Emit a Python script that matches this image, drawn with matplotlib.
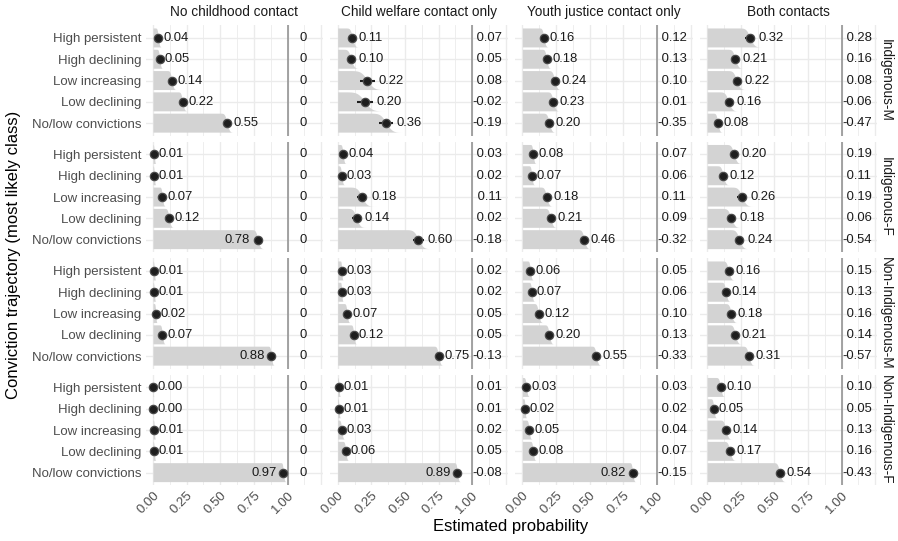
import math
import matplotlib.pyplot as plt
import numpy as np

plt.rcParams['font.family'] = ['Liberation Sans', 'DejaVu Sans']

categories = ["High persistent", "High declining", "Low increasing",
              "Low declining", "No/low convictions"]
contacts = ["No childhood contact", "Child welfare contact only",
            "Youth justice contact only", "Both contacts"]
groups = ["Indigenous-M", "Indigenous-F", "Non-Indigenous-M", "Non-Indigenous-F"]

# estimated probability, one list per contact column (5 trajectories each)
prob_indig_m = [[0.04, 0.05, 0.14, 0.22, 0.55],
                [0.11, 0.10, 0.22, 0.20, 0.36],
                [0.16, 0.18, 0.24, 0.23, 0.20],
                [0.32, 0.21, 0.22, 0.16, 0.08]]
prob_indig_f = [[0.01, 0.01, 0.07, 0.12, 0.78],
                [0.04, 0.03, 0.18, 0.14, 0.60],
                [0.08, 0.07, 0.18, 0.21, 0.46],
                [0.20, 0.12, 0.26, 0.18, 0.24]]
prob_nonindig_m = [[0.01, 0.01, 0.02, 0.07, 0.88],
                   [0.03, 0.03, 0.07, 0.12, 0.75],
                   [0.06, 0.07, 0.12, 0.20, 0.55],
                   [0.16, 0.14, 0.18, 0.21, 0.31]]
prob_nonindig_f = [[0.00, 0.00, 0.01, 0.01, 0.97],
                   [0.01, 0.01, 0.03, 0.06, 0.89],
                   [0.03, 0.02, 0.05, 0.08, 0.82],
                   [0.10, 0.05, 0.14, 0.17, 0.54]]

# half width of the interval around each estimate
hw_indig_m = [[0.010, 0.010, 0.015, 0.015, 0.020],
              [0.020, 0.025, 0.055, 0.060, 0.050],
              [0.015, 0.015, 0.020, 0.020, 0.020],
              [0.035, 0.025, 0.030, 0.030, 0.015]]
hw_indig_f = [[0.005, 0.005, 0.010, 0.015, 0.020],
              [0.010, 0.010, 0.040, 0.030, 0.040],
              [0.010, 0.010, 0.020, 0.020, 0.020],
              [0.025, 0.020, 0.035, 0.030, 0.030]]
hw_nonindig_m = [[0.005, 0.005, 0.005, 0.010, 0.010],
                 [0.005, 0.005, 0.010, 0.010, 0.015],
                 [0.010, 0.010, 0.015, 0.015, 0.015],
                 [0.020, 0.015, 0.020, 0.020, 0.020]]
hw_nonindig_f = [[0.003, 0.003, 0.004, 0.005, 0.008],
                 [0.005, 0.005, 0.010, 0.010, 0.010],
                 [0.010, 0.005, 0.010, 0.010, 0.010],
                 [0.015, 0.010, 0.020, 0.020, 0.020]]

# difference from "No childhood contact"
diff_indig_m = [[0, 0, 0, 0, 0],
                [0.07, 0.05, 0.08, -0.02, -0.19],
                [0.12, 0.13, 0.10, 0.01, -0.35],
                [0.28, 0.16, 0.08, -0.06, -0.47]]
diff_indig_f = [[0, 0, 0, 0, 0],
                [0.03, 0.02, 0.11, 0.02, -0.18],
                [0.07, 0.06, 0.11, 0.09, -0.32],
                [0.19, 0.11, 0.19, 0.06, -0.54]]
diff_nonindig_m = [[0, 0, 0, 0, 0],
                   [0.02, 0.02, 0.05, 0.05, -0.13],
                   [0.05, 0.06, 0.10, 0.13, -0.33],
                   [0.15, 0.13, 0.16, 0.14, -0.57]]
diff_nonindig_f = [[0, 0, 0, 0, 0],
                   [0.01, 0.01, 0.02, 0.05, -0.08],
                   [0.03, 0.02, 0.04, 0.07, -0.15],
                   [0.10, 0.05, 0.13, 0.16, -0.43]]

probs = [prob_indig_m, prob_indig_f, prob_nonindig_m, prob_nonindig_f]
hws = [hw_indig_m, hw_indig_f, hw_nonindig_m, hw_nonindig_f]
diffs = [diff_indig_m, diff_indig_f, diff_nonindig_m, diff_nonindig_f]

W, H = 898, 541
fig = plt.figure(figsize=(W / 100, H / 100), dpi=100)

unit = 134.5       # pixels per 1.0 of probability
col_x0 = 153.0     # pixel of x=0 in first column
col_step = 184.7
row_top0 = 25.2
row_step = 116.5
cat_px = 21.3
xlim = (-0.055, 1.265)
ylim = (4.6, -0.6)
pw = (xlim[1] - xlim[0]) * unit
ph = (ylim[0] - ylim[1]) * cat_px

grid_col = '#ebebeb'
slab_col = '#d3d3d3'
dot_col = '#1e1e1e'
lab_size = 9.4


def ccdf(x, m, s):
    return np.array([0.5 * math.erfc((v - m) / (s * math.sqrt(2))) for v in x])


for r in range(4):
    for c in range(4):
        left = col_x0 + c * col_step + xlim[0] * unit
        top = row_top0 + r * row_step
        ax = fig.add_axes([left / W, 1 - (top + ph) / H, pw / W, ph / H])
        ax.set_xlim(*xlim)
        ax.set_ylim(*ylim)
        for s in ax.spines.values():
            s.set_visible(False)

        ax.set_xticks([0, 0.25, 0.5, 0.75, 1.0, 1.25])
        ax.set_xticks([0.125, 0.375, 0.625, 0.875, 1.125], minor=True)
        ax.set_yticks(range(5))
        ax.grid(which='major', color=grid_col, lw=1.0, zorder=0)
        ax.grid(which='minor', axis='x', color=grid_col, lw=0.6, zorder=0)
        ax.set_axisbelow(True)
        ax.tick_params(which='both', length=0, colors='#4d4d4d',
                       labelsize=9.5, pad=3)

        if r == 3:
            ax.set_xticklabels(['0.00', '0.25', '0.50', '0.75', '1.00', ''])
            plt.setp(ax.get_xticklabels(), rotation=45, ha='right',
                     va='top', rotation_mode='anchor')
        else:
            ax.set_xticklabels([])
        if c == 0:
            ax.set_yticklabels(categories)
        else:
            ax.set_yticklabels([])

        vals = probs[r][c]
        ws = hws[r][c]
        ds = diffs[r][c]
        for i in range(5):
            m, hw = vals[i], ws[i]
            sd = max(hw * 0.7, 0.002)
            xs = np.linspace(0, min(m + 4 * sd, 1.0), 200)
            yb = i + 0.42
            ax.fill_between(xs, yb, yb - 0.89 * ccdf(xs, m, sd),
                            color=slab_col, lw=0, zorder=1)
            ax.plot([m - hw, m + hw], [i, i], color=dot_col, lw=1.5,
                    solid_capstyle='butt', zorder=4)
            ax.plot(m, i, 'o', ms=6.0, color=dot_col, mec='#4a4a4a',
                    mew=0.9, zorder=5)
            if m > 0.76:
                ax.text(m - hw - 0.04, i, f"{m:.2f}", ha='right',
                        va='center', size=lab_size, color='#1a1a1a', zorder=6)
            else:
                ax.text(m + hw + 0.028, i, f"{m:.2f}", ha='left',
                        va='center', size=lab_size, color='#1a1a1a', zorder=6)

            d = ds[i]
            lab = "0" if c == 0 else f"{d: .2f}"
            ax.text(1.115, i, lab, ha='center', va='center', size=lab_size,
                    color='#1a1a1a', zorder=6)

        ax.axvline(1.0, color='#8c8c8c', lw=1.1, zorder=3)

# column strips
for c, name in enumerate(contacts):
    cx = col_x0 + c * col_step + (xlim[0] + xlim[1]) / 2 * unit
    fig.text(cx / W, 1 - 12 / H, name, ha='center', va='center',
             size=9.8, color='#1a1a1a')

# row strips
for r, name in enumerate(groups):
    cy = row_top0 + r * row_step + ph / 2
    fig.text(886 / W, 1 - cy / H, name, ha='center', va='center',
             rotation=-90, size=9.8, color='#1a1a1a')

fig.text(511 / W, 1 - 526 / H, "Estimated probability", ha='center',
         va='center', size=12, color='#000000')
fig.text(14 / W, 1 - 255 / H, "Conviction trajectory (most likely class)",
         ha='center', va='center', rotation=90, size=12, color='#000000')

plt.savefig("out.png", dpi=100)
